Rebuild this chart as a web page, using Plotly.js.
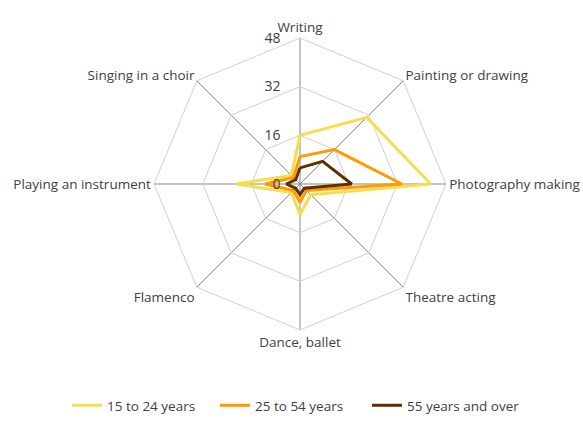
<!DOCTYPE html>
<html>
<head>
<meta charset="utf-8">
<script src="https://cdn.plot.ly/plotly-3.0.1.min.js"></script>
<style>html,body{margin:0;padding:0;background:#fff;}#chart{width:583px;height:421px;}</style>
</head>
<body>
<div id="chart"></div>
<script>
const categories = ["Writing", "Painting or drawing", "Photography making", "Theatre acting", "Dance, ballet", "Flamenco", "Playing an instrument", "Singing in a choir"];
const seriesNames = ["15 to 24 years", "25 to 54 years", "55 years and over"];
const age15to24 = [16, 31, 43, 5, 10, 4, 21, 4];
const age25to54 = [9, 16, 33.5, 3, 6, 3, 11.5, 3];
const age55plus = [5.3, 10.5, 17, 2, 3.5, 2, 4.5, 2];
const radialTicks = [0, 16, 32, 48];

const colors = ["#f7dc4c", "#ff9a00", "#5e3000"];
const allSeries = [age15to24, age25to54, age55plus];
const legendIds = ["legend", "legend2", "legend3"];

const traces = allSeries.map((vals, i) => ({
  type: "scatterpolar",
  mode: "lines",
  r: vals.concat([vals[0]]),
  theta: categories.concat([categories[0]]),
  name: seriesNames[i],
  legend: legendIds[i],
  line: {color: colors[i], width: 3, shape: "linear"},
  hoverinfo: "none"
}));

const font = {family: "Open Sans, Lato, sans-serif", size: 13.5, color: "#404040"};
const legendFont = {family: "Open Sans, Lato, sans-serif", size: 13.5, color: "#404040"};
function legendAt(px) {
  return {
    orientation: "h",
    x: (px - 5) / 583, xanchor: "left",
    y: 0, yanchor: "bottom",
    font: legendFont,
    bgcolor: "rgba(0,0,0,0)"
  };
}

const layout = {
  width: 583, height: 421,
  margin: {l: 0, r: 0, t: 0, b: 0, autoexpand: false},
  paper_bgcolor: "#fff",
  font: font,
  showlegend: true,
  legend: legendAt(72),
  legend2: legendAt(220),
  legend3: legendAt(372),
  polar: {
    domain: {x: [0.2642, 0.765], y: [0.2162, 0.9097]},
    gridshape: "linear",
    bgcolor: "#fff",
    radialaxis: {
      range: [0, 48],
      tickvals: radialTicks,
      ticktext: radialTicks.map(String),
      angle: 90,
      tickangle: 90,
      side: "counterclockwise",
      showline: false,
      ticks: "outside",
      ticklen: 14,
      tickcolor: "rgba(0,0,0,0)",
      gridcolor: "#d0d0d0",
      gridwidth: 1,
      tickfont: {family: font.family, size: 14, color: "#404040"}
    },
    angularaxis: {
      direction: "clockwise",
      rotation: 90,
      showline: true,
      linecolor: "#d0d0d0",
      linewidth: 1,
      gridcolor: "#888",
      gridwidth: 1,
      ticks: "",
      tickfont: font
    }
  }
};

Plotly.newPlot("chart", traces, layout, {displayModeBar: false, staticPlot: true});
</script>
</body>
</html>
